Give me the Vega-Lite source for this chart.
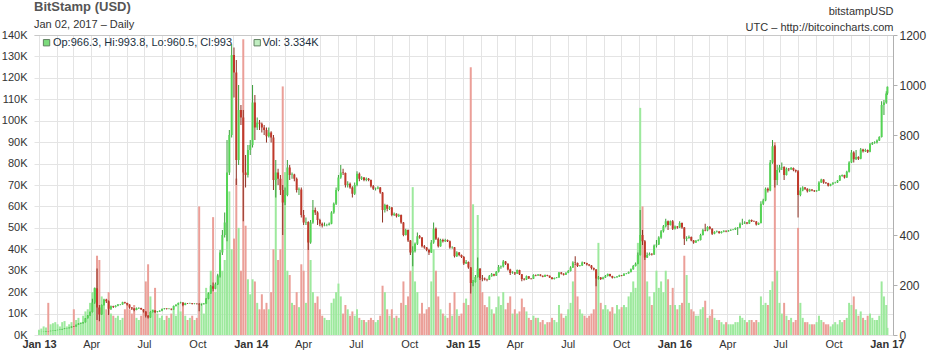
{
"$schema":"https://vega.github.io/schema/vega-lite/v6.json",
"width":859,"height":300,
"autosize":{"type":"none"},
"padding":{"left":34,"top":35,"right":42,"bottom":22},
"background":"white",
"config":{"font":"Liberation Sans","view":{"stroke":null}},
"title":{"text":"BitStamp (USD)","subtitle":"Jan 02, 2017 \u2013 Daily","anchor":"start","frame":"group","fontSize":13,"fontWeight":"bold","color":"#555555","subtitleFontSize":11,"subtitleColor":"#333333","subtitlePadding":5,"offset":3,"dy":28},
"datasets":{"px":[
{"t":"2013-01-01","o":13.3,"h":13.6,"l":13.2,"c":13.4,"v":2500},
{"t":"2013-01-05","o":13.4,"h":13.8,"l":13.3,"c":13.5,"v":3000},
{"t":"2013-01-09","o":13.5,"h":14.3,"l":13.4,"c":14.0,"v":4000},
{"t":"2013-01-13","o":14.0,"h":15.9,"l":13.9,"c":15.7,"v":3500},
{"t":"2013-01-17","o":15.8,"h":16.0,"l":15.0,"c":15.3,"v":15000},
{"t":"2013-01-21","o":15.3,"h":17.0,"l":15.2,"c":16.6,"v":5000},
{"t":"2013-01-25","o":16.6,"h":17.8,"l":16.5,"c":17.4,"v":5500},
{"t":"2013-01-29","o":17.4,"h":19.8,"l":17.3,"c":19.5,"v":6000},
{"t":"2013-02-02","o":19.5,"h":20.8,"l":19.3,"c":20.4,"v":5000},
{"t":"2013-02-06","o":20.4,"h":21.9,"l":20.2,"c":21.5,"v":4000},
{"t":"2013-02-10","o":21.5,"h":24.5,"l":21.3,"c":24.0,"v":6000},
{"t":"2013-02-14","o":24.0,"h":27.0,"l":23.8,"c":26.5,"v":6500},
{"t":"2013-02-18","o":26.5,"h":27.5,"l":26.0,"c":27.0,"v":4000},
{"t":"2013-02-22","o":27.0,"h":30.0,"l":26.8,"c":29.5,"v":5000},
{"t":"2013-02-26","o":29.5,"h":34.5,"l":29.0,"c":34.0,"v":6000},
{"t":"2013-03-02","o":34.5,"h":35.5,"l":32.5,"c":33.8,"v":12000},
{"t":"2013-03-06","o":33.8,"h":41.5,"l":33.5,"c":41.0,"v":7000},
{"t":"2013-03-10","o":41.0,"h":47.5,"l":40.5,"c":46.0,"v":8000},
{"t":"2013-03-14","o":46.0,"h":48.0,"l":44.0,"c":47.0,"v":6000},
{"t":"2013-03-18","o":47.0,"h":52.0,"l":46.0,"c":51.0,"v":9000},
{"t":"2013-03-22","o":51.0,"h":68.0,"l":50.0,"c":67.0,"v":11000},
{"t":"2013-03-26","o":67.0,"h":80.0,"l":66.0,"c":78.0,"v":12000},
{"t":"2013-03-30","o":78.0,"h":94.0,"l":77.0,"c":92.0,"v":15000},
{"t":"2013-04-03","o":92,"h":145,"l":90,"c":130,"v":20000},
{"t":"2013-04-07","o":130,"h":190,"l":125,"c":187,"v":22000},
{"t":"2013-04-11","o":187,"h":266,"l":60,"c":110,"v":37000},
{"t":"2013-04-15","o":110,"h":120,"l":55,"c":82,"v":35000},
{"t":"2013-04-19","o":82,"h":122,"l":80,"c":120,"v":18000},
{"t":"2013-04-23","o":120,"h":145,"l":118,"c":142,"v":15000},
{"t":"2013-04-27","o":142,"h":145,"l":128,"c":135,"v":12000},
{"t":"2013-05-01","o":135,"h":138,"l":80,"c":105,"v":20000},
{"t":"2013-05-05","o":105,"h":118,"l":100,"c":115,"v":10000},
{"t":"2013-05-09","o":115,"h":117,"l":108,"c":112,"v":9000},
{"t":"2013-05-13","o":112,"h":119,"l":110,"c":117,"v":8000},
{"t":"2013-05-17","o":117,"h":124,"l":115,"c":122,"v":9000},
{"t":"2013-05-21","o":122,"h":124,"l":119,"c":122,"v":7000},
{"t":"2013-05-25","o":122,"h":133,"l":121,"c":131,"v":8000},
{"t":"2013-05-29","o":131,"h":133,"l":125,"c":128,"v":12000},
{"t":"2013-06-02","o":128,"h":129,"l":118,"c":122,"v":15000},
{"t":"2013-06-06","o":122,"h":123,"l":105,"c":110,"v":12000},
{"t":"2013-06-10","o":110,"h":112,"l":100,"c":106,"v":10000},
{"t":"2013-06-14","o":106,"h":107,"l":95,"c":100,"v":14000},
{"t":"2013-06-18","o":100,"h":110,"l":99,"c":107,"v":8000},
{"t":"2013-06-22","o":107,"h":111,"l":104,"c":108,"v":7000},
{"t":"2013-06-26","o":108,"h":109,"l":100,"c":103,"v":9000},
{"t":"2013-06-30","o":103,"h":104,"l":90,"c":94,"v":11000},
{"t":"2013-07-04","o":94,"h":95,"l":70,"c":77,"v":25000},
{"t":"2013-07-08","o":77,"h":80,"l":66,"c":70,"v":33000},
{"t":"2013-07-12","o":70,"h":95,"l":69,"c":92,"v":18000},
{"t":"2013-07-16","o":92,"h":100,"l":90,"c":98,"v":12000},
{"t":"2013-07-20","o":98,"h":99,"l":88,"c":92,"v":22000},
{"t":"2013-07-24","o":92,"h":96,"l":90,"c":94,"v":10000},
{"t":"2013-07-28","o":94,"h":99,"l":92,"c":97,"v":8000},
{"t":"2013-08-01","o":97,"h":106,"l":95,"c":104,"v":9000},
{"t":"2013-08-05","o":104,"h":108,"l":102,"c":106,"v":7000},
{"t":"2013-08-09","o":106,"h":107,"l":102,"c":104,"v":9000},
{"t":"2013-08-13","o":104,"h":107,"l":103,"c":105,"v":8000},
{"t":"2013-08-17","o":105,"h":106,"l":99,"c":102,"v":10000},
{"t":"2013-08-21","o":102,"h":118,"l":101,"c":116,"v":12000},
{"t":"2013-08-25","o":116,"h":123,"l":114,"c":121,"v":9000},
{"t":"2013-08-29","o":121,"h":130,"l":120,"c":128,"v":14000},
{"t":"2013-09-02","o":128,"h":133,"l":126,"c":130,"v":11000},
{"t":"2013-09-06","o":130,"h":131,"l":115,"c":120,"v":15000},
{"t":"2013-09-10","o":120,"h":129,"l":119,"c":127,"v":9000},
{"t":"2013-09-14","o":127,"h":128,"l":124,"c":126,"v":7000},
{"t":"2013-09-18","o":126,"h":129,"l":125,"c":127,"v":8000},
{"t":"2013-09-22","o":127,"h":128,"l":122,"c":124,"v":9000},
{"t":"2013-09-26","o":124,"h":127,"l":123,"c":125,"v":7000},
{"t":"2013-09-30","o":125,"h":127,"l":122,"c":124,"v":8000},
{"t":"2013-10-04","o":124,"h":128,"l":95,"c":122,"v":60000},
{"t":"2013-10-08","o":122,"h":125,"l":118,"c":123,"v":15000},
{"t":"2013-10-12","o":123,"h":128,"l":122,"c":126,"v":10000},
{"t":"2013-10-16","o":126,"h":148,"l":125,"c":145,"v":22000},
{"t":"2013-10-20","o":145,"h":170,"l":143,"c":166,"v":20000},
{"t":"2013-10-24","o":166,"h":200,"l":165,"c":195,"v":30000},
{"t":"2013-10-28","o":195,"h":210,"l":175,"c":185,"v":55000},
{"t":"2013-11-01","o":185,"h":210,"l":183,"c":203,"v":20000},
{"t":"2013-11-05","o":203,"h":245,"l":200,"c":235,"v":28000},
{"t":"2013-11-09","o":235,"h":340,"l":230,"c":330,"v":33000},
{"t":"2013-11-13","o":330,"h":420,"l":320,"c":400,"v":30000},
{"t":"2013-11-17","o":400,"h":490,"l":390,"c":450,"v":35000},
{"t":"2013-11-21","o":450,"h":780,"l":375,"c":650,"v":63000},
{"t":"2013-11-25","o":650,"h":820,"l":640,"c":800,"v":67000},
{"t":"2013-11-29","o":800,"h":1163,"l":790,"c":1120,"v":40000},
{"t":"2013-12-03","o":1120,"h":1150,"l":950,"c":1050,"v":45000},
{"t":"2013-12-07","o":1050,"h":1100,"l":600,"c":700,"v":73000},
{"t":"2013-12-11","o":700,"h":1000,"l":680,"c":900,"v":50000},
{"t":"2013-12-15","o":900,"h":920,"l":840,"c":870,"v":30000},
{"t":"2013-12-19","o":870,"h":900,"l":455,"c":650,"v":138000},
{"t":"2013-12-23","o":650,"h":720,"l":590,"c":640,"v":51000},
{"t":"2013-12-27","o":640,"h":760,"l":630,"c":740,"v":26000},
{"t":"2013-12-31","o":740,"h":780,"l":720,"c":760,"v":19000},
{"t":"2014-01-04","o":760,"h":1000,"l":750,"c":930,"v":26000},
{"t":"2014-01-08","o":930,"h":960,"l":780,"c":830,"v":25000},
{"t":"2014-01-12","o":830,"h":870,"l":820,"c":850,"v":15000},
{"t":"2014-01-16","o":850,"h":860,"l":820,"c":845,"v":12000},
{"t":"2014-01-20","o":845,"h":850,"l":810,"c":830,"v":19000},
{"t":"2014-01-24","o":830,"h":840,"l":800,"c":820,"v":12000},
{"t":"2014-01-28","o":820,"h":830,"l":770,"c":795,"v":15000},
{"t":"2014-02-01","o":795,"h":830,"l":790,"c":810,"v":12000},
{"t":"2014-02-05","o":810,"h":815,"l":770,"c":790,"v":20000},
{"t":"2014-02-09","o":790,"h":800,"l":580,"c":620,"v":40000},
{"t":"2014-02-13","o":620,"h":700,"l":550,"c":650,"v":73000},
{"t":"2014-02-17","o":650,"h":665,"l":600,"c":625,"v":35000},
{"t":"2014-02-21","o":625,"h":640,"l":560,"c":580,"v":40000},
{"t":"2014-02-25","o":580,"h":600,"l":400,"c":530,"v":116000},
{"t":"2014-03-01","o":530,"h":590,"l":520,"c":560,"v":76000},
{"t":"2014-03-05","o":560,"h":700,"l":555,"c":670,"v":30000},
{"t":"2014-03-09","o":670,"h":680,"l":620,"c":640,"v":28000},
{"t":"2014-03-13","o":640,"h":650,"l":625,"c":642,"v":15000},
{"t":"2014-03-17","o":642,"h":645,"l":615,"c":625,"v":14000},
{"t":"2014-03-21","o":625,"h":630,"l":570,"c":580,"v":20000},
{"t":"2014-03-25","o":580,"h":590,"l":560,"c":582,"v":13000},
{"t":"2014-03-29","o":582,"h":590,"l":470,"c":480,"v":33000},
{"t":"2014-04-02","o":480,"h":500,"l":440,"c":450,"v":30000},
{"t":"2014-04-06","o":450,"h":470,"l":440,"c":452,"v":15000},
{"t":"2014-04-10","o":452,"h":455,"l":340,"c":370,"v":49000},
{"t":"2014-04-14","o":370,"h":460,"l":365,"c":450,"v":35000},
{"t":"2014-04-18","o":450,"h":540,"l":445,"c":500,"v":20000},
{"t":"2014-04-22","o":500,"h":510,"l":480,"c":490,"v":15000},
{"t":"2014-04-26","o":490,"h":495,"l":440,"c":460,"v":18000},
{"t":"2014-04-30","o":460,"h":465,"l":435,"c":445,"v":12000},
{"t":"2014-05-04","o":445,"h":450,"l":430,"c":438,"v":9000},
{"t":"2014-05-08","o":438,"h":450,"l":435,"c":440,"v":8000},
{"t":"2014-05-12","o":440,"h":445,"l":435,"c":440,"v":7000},
{"t":"2014-05-16","o":440,"h":450,"l":438,"c":445,"v":7000},
{"t":"2014-05-20","o":445,"h":495,"l":443,"c":490,"v":15000},
{"t":"2014-05-24","o":490,"h":530,"l":485,"c":525,"v":17000},
{"t":"2014-05-28","o":525,"h":590,"l":520,"c":580,"v":20000},
{"t":"2014-06-01","o":580,"h":640,"l":575,"c":630,"v":24000},
{"t":"2014-06-05","o":630,"h":680,"l":625,"c":650,"v":18000},
{"t":"2014-06-09","o":650,"h":665,"l":640,"c":648,"v":10000},
{"t":"2014-06-13","o":648,"h":650,"l":590,"c":600,"v":14000},
{"t":"2014-06-17","o":600,"h":615,"l":590,"c":605,"v":12000},
{"t":"2014-06-21","o":605,"h":610,"l":585,"c":590,"v":9000},
{"t":"2014-06-25","o":590,"h":595,"l":550,"c":565,"v":11000},
{"t":"2014-06-29","o":565,"h":610,"l":560,"c":600,"v":9000},
{"t":"2014-07-03","o":600,"h":655,"l":595,"c":645,"v":12000},
{"t":"2014-07-07","o":645,"h":650,"l":615,"c":625,"v":8000},
{"t":"2014-07-11","o":625,"h":635,"l":620,"c":630,"v":7000},
{"t":"2014-07-15","o":630,"h":632,"l":615,"c":620,"v":7000},
{"t":"2014-07-19","o":620,"h":630,"l":615,"c":625,"v":6000},
{"t":"2014-07-23","o":625,"h":628,"l":615,"c":620,"v":7000},
{"t":"2014-07-27","o":620,"h":622,"l":590,"c":595,"v":8000},
{"t":"2014-07-31","o":595,"h":600,"l":580,"c":585,"v":7000},
{"t":"2014-08-04","o":585,"h":590,"l":578,"c":586,"v":6000},
{"t":"2014-08-08","o":586,"h":595,"l":583,"c":590,"v":7000},
{"t":"2014-08-12","o":590,"h":592,"l":565,"c":570,"v":9000},
{"t":"2014-08-16","o":570,"h":572,"l":450,"c":500,"v":23000},
{"t":"2014-08-20","o":500,"h":525,"l":490,"c":520,"v":20000},
{"t":"2014-08-24","o":520,"h":522,"l":495,"c":505,"v":12000},
{"t":"2014-08-28","o":505,"h":515,"l":500,"c":510,"v":9000},
{"t":"2014-09-01","o":510,"h":512,"l":475,"c":480,"v":12000},
{"t":"2014-09-05","o":480,"h":490,"l":476,"c":485,"v":8000},
{"t":"2014-09-09","o":485,"h":487,"l":470,"c":475,"v":9000},
{"t":"2014-09-13","o":475,"h":485,"l":472,"c":480,"v":8000},
{"t":"2014-09-17","o":480,"h":482,"l":445,"c":450,"v":15000},
{"t":"2014-09-21","o":450,"h":452,"l":395,"c":400,"v":25000},
{"t":"2014-09-25","o":400,"h":425,"l":398,"c":420,"v":14000},
{"t":"2014-09-29","o":420,"h":422,"l":372,"c":378,"v":18000},
{"t":"2014-10-03","o":378,"h":380,"l":320,"c":330,"v":30000},
{"t":"2014-10-07","o":330,"h":355,"l":275,"c":335,"v":69000},
{"t":"2014-10-11","o":335,"h":370,"l":330,"c":365,"v":25000},
{"t":"2014-10-15","o":365,"h":410,"l":360,"c":395,"v":20000},
{"t":"2014-10-19","o":395,"h":400,"l":385,"c":390,"v":10000},
{"t":"2014-10-23","o":390,"h":392,"l":350,"c":355,"v":15000},
{"t":"2014-10-27","o":355,"h":360,"l":345,"c":350,"v":10000},
{"t":"2014-10-31","o":350,"h":352,"l":335,"c":340,"v":12000},
{"t":"2014-11-04","o":340,"h":345,"l":320,"c":330,"v":13000},
{"t":"2014-11-08","o":330,"h":380,"l":328,"c":370,"v":25000},
{"t":"2014-11-12","o":370,"h":450,"l":365,"c":425,"v":40000},
{"t":"2014-11-16","o":425,"h":430,"l":380,"c":385,"v":30000},
{"t":"2014-11-20","o":385,"h":390,"l":350,"c":355,"v":18000},
{"t":"2014-11-24","o":355,"h":385,"l":353,"c":380,"v":12000},
{"t":"2014-11-28","o":380,"h":385,"l":370,"c":375,"v":10000},
{"t":"2014-12-02","o":375,"h":385,"l":372,"c":380,"v":9000},
{"t":"2014-12-06","o":380,"h":382,"l":372,"c":375,"v":8000},
{"t":"2014-12-10","o":375,"h":378,"l":345,"c":350,"v":15000},
{"t":"2014-12-14","o":350,"h":355,"l":345,"c":351,"v":9000},
{"t":"2014-12-18","o":351,"h":352,"l":310,"c":315,"v":20000},
{"t":"2014-12-22","o":315,"h":335,"l":312,"c":330,"v":12000},
{"t":"2014-12-26","o":330,"h":332,"l":315,"c":320,"v":9000},
{"t":"2014-12-30","o":320,"h":322,"l":308,"c":312,"v":10000},
{"t":"2015-01-03","o":312,"h":316,"l":280,"c":286,"v":15000},
{"t":"2015-01-07","o":286,"h":300,"l":284,"c":292,"v":17000},
{"t":"2015-01-11","o":292,"h":294,"l":265,"c":270,"v":14000},
{"t":"2015-01-15","o":270,"h":272,"l":166,"c":208,"v":125000},
{"t":"2015-01-19","o":208,"h":220,"l":195,"c":212,"v":61000},
{"t":"2015-01-23","o":212,"h":240,"l":210,"c":232,"v":25000},
{"t":"2015-01-27","o":232,"h":310,"l":230,"c":265,"v":56000},
{"t":"2015-01-31","o":265,"h":268,"l":220,"c":228,"v":30000},
{"t":"2015-02-04","o":228,"h":240,"l":215,"c":226,"v":20000},
{"t":"2015-02-08","o":226,"h":230,"l":218,"c":222,"v":14000},
{"t":"2015-02-12","o":222,"h":225,"l":215,"c":221,"v":13000},
{"t":"2015-02-16","o":221,"h":240,"l":220,"c":235,"v":18000},
{"t":"2015-02-20","o":235,"h":248,"l":233,"c":243,"v":12000},
{"t":"2015-02-24","o":243,"h":245,"l":235,"c":238,"v":10000},
{"t":"2015-02-28","o":238,"h":256,"l":236,"c":253,"v":13000},
{"t":"2015-03-04","o":253,"h":280,"l":250,"c":272,"v":18000},
{"t":"2015-03-08","o":272,"h":278,"l":265,"c":274,"v":14000},
{"t":"2015-03-12","o":274,"h":300,"l":270,"c":294,"v":20000},
{"t":"2015-03-16","o":294,"h":296,"l":280,"c":285,"v":12000},
{"t":"2015-03-20","o":285,"h":287,"l":258,"c":262,"v":15000},
{"t":"2015-03-24","o":262,"h":265,"l":240,"c":248,"v":18000},
{"t":"2015-03-28","o":248,"h":255,"l":245,"c":250,"v":10000},
{"t":"2015-04-01","o":250,"h":252,"l":240,"c":246,"v":12000},
{"t":"2015-04-05","o":246,"h":262,"l":244,"c":260,"v":10000},
{"t":"2015-04-09","o":260,"h":261,"l":240,"c":243,"v":11000},
{"t":"2015-04-13","o":243,"h":244,"l":215,"c":224,"v":17000},
{"t":"2015-04-17","o":224,"h":228,"l":218,"c":222,"v":13000},
{"t":"2015-04-21","o":222,"h":238,"l":220,"c":235,"v":11000},
{"t":"2015-04-25","o":235,"h":236,"l":224,"c":226,"v":8000},
{"t":"2015-04-29","o":226,"h":228,"l":222,"c":225,"v":7000},
{"t":"2015-05-03","o":225,"h":243,"l":224,"c":240,"v":9000},
{"t":"2015-05-07","o":240,"h":242,"l":235,"c":238,"v":8000},
{"t":"2015-05-11","o":238,"h":244,"l":236,"c":242,"v":8000},
{"t":"2015-05-15","o":242,"h":243,"l":235,"c":237,"v":6000},
{"t":"2015-05-19","o":237,"h":238,"l":231,"c":233,"v":7000},
{"t":"2015-05-23","o":233,"h":242,"l":232,"c":240,"v":5000},
{"t":"2015-05-27","o":240,"h":241,"l":235,"c":237,"v":6000},
{"t":"2015-05-31","o":237,"h":238,"l":228,"c":230,"v":6000},
{"t":"2015-06-04","o":230,"h":232,"l":222,"c":224,"v":8000},
{"t":"2015-06-08","o":224,"h":230,"l":222,"c":228,"v":7000},
{"t":"2015-06-12","o":228,"h":232,"l":227,"c":230,"v":6000},
{"t":"2015-06-16","o":230,"h":252,"l":229,"c":250,"v":14000},
{"t":"2015-06-20","o":250,"h":252,"l":242,"c":245,"v":10000},
{"t":"2015-06-24","o":245,"h":247,"l":238,"c":241,"v":8000},
{"t":"2015-06-28","o":241,"h":251,"l":240,"c":249,"v":9000},
{"t":"2015-07-02","o":249,"h":260,"l":247,"c":256,"v":12000},
{"t":"2015-07-06","o":256,"h":275,"l":254,"c":270,"v":15000},
{"t":"2015-07-10","o":270,"h":295,"l":268,"c":290,"v":25000},
{"t":"2015-07-14","o":290,"h":315,"l":280,"c":288,"v":33000},
{"t":"2015-07-18","o":288,"h":290,"l":272,"c":276,"v":18000},
{"t":"2015-07-22","o":276,"h":280,"l":274,"c":278,"v":12000},
{"t":"2015-07-26","o":278,"h":294,"l":276,"c":290,"v":10000},
{"t":"2015-07-30","o":290,"h":292,"l":284,"c":288,"v":9000},
{"t":"2015-08-03","o":288,"h":289,"l":278,"c":282,"v":8000},
{"t":"2015-08-07","o":282,"h":284,"l":275,"c":278,"v":9000},
{"t":"2015-08-11","o":278,"h":280,"l":262,"c":268,"v":10000},
{"t":"2015-08-15","o":268,"h":270,"l":258,"c":262,"v":12000},
{"t":"2015-08-19","o":262,"h":264,"l":195,"c":226,"v":30000},
{"t":"2015-08-23","o":226,"h":236,"l":222,"c":230,"v":43000},
{"t":"2015-08-27","o":230,"h":232,"l":220,"c":224,"v":15000},
{"t":"2015-08-31","o":224,"h":233,"l":222,"c":230,"v":12000},
{"t":"2015-09-04","o":230,"h":240,"l":228,"c":236,"v":14000},
{"t":"2015-09-08","o":236,"h":246,"l":234,"c":244,"v":12000},
{"t":"2015-09-12","o":244,"h":245,"l":233,"c":236,"v":11000},
{"t":"2015-09-16","o":236,"h":237,"l":226,"c":229,"v":13000},
{"t":"2015-09-20","o":229,"h":233,"l":227,"c":231,"v":10000},
{"t":"2015-09-24","o":231,"h":236,"l":229,"c":234,"v":14000},
{"t":"2015-09-28","o":234,"h":241,"l":232,"c":239,"v":12000},
{"t":"2015-10-02","o":239,"h":240,"l":235,"c":237,"v":13000},
{"t":"2015-10-06","o":237,"h":247,"l":236,"c":245,"v":14000},
{"t":"2015-10-10","o":245,"h":248,"l":243,"c":246,"v":13000},
{"t":"2015-10-14","o":246,"h":254,"l":245,"c":252,"v":18000},
{"t":"2015-10-18","o":252,"h":266,"l":250,"c":263,"v":20000},
{"t":"2015-10-22","o":263,"h":280,"l":261,"c":276,"v":25000},
{"t":"2015-10-26","o":276,"h":290,"l":274,"c":285,"v":22000},
{"t":"2015-10-30","o":285,"h":330,"l":283,"c":320,"v":43000},
{"t":"2015-11-03","o":320,"h":500,"l":318,"c":400,"v":106000},
{"t":"2015-11-07","o":400,"h":420,"l":360,"c":375,"v":60000},
{"t":"2015-11-11","o":375,"h":380,"l":300,"c":310,"v":40000},
{"t":"2015-11-15","o":310,"h":330,"l":308,"c":320,"v":25000},
{"t":"2015-11-19","o":320,"h":330,"l":318,"c":325,"v":18000},
{"t":"2015-11-23","o":325,"h":327,"l":318,"c":322,"v":14000},
{"t":"2015-11-27","o":322,"h":362,"l":320,"c":358,"v":20000},
{"t":"2015-12-01","o":358,"h":380,"l":350,"c":362,"v":30000},
{"t":"2015-12-05","o":362,"h":395,"l":360,"c":390,"v":22000},
{"t":"2015-12-09","o":390,"h":420,"l":385,"c":415,"v":25000},
{"t":"2015-12-13","o":415,"h":440,"l":410,"c":435,"v":20000},
{"t":"2015-12-17","o":435,"h":465,"l":430,"c":455,"v":30000},
{"t":"2015-12-21","o":455,"h":458,"l":420,"c":440,"v":26000},
{"t":"2015-12-25","o":440,"h":458,"l":438,"c":455,"v":14000},
{"t":"2015-12-29","o":455,"h":460,"l":420,"c":425,"v":22000},
{"t":"2016-01-02","o":425,"h":438,"l":422,"c":434,"v":14000},
{"t":"2016-01-06","o":434,"h":436,"l":425,"c":430,"v":12000},
{"t":"2016-01-10","o":430,"h":455,"l":428,"c":448,"v":14000},
{"t":"2016-01-14","o":448,"h":450,"l":425,"c":430,"v":15000},
{"t":"2016-01-18","o":430,"h":432,"l":360,"c":385,"v":37000},
{"t":"2016-01-22","o":385,"h":395,"l":375,"c":388,"v":28000},
{"t":"2016-01-26","o":388,"h":398,"l":385,"c":392,"v":15000},
{"t":"2016-01-30","o":392,"h":394,"l":375,"c":378,"v":12000},
{"t":"2016-02-03","o":378,"h":380,"l":365,"c":370,"v":11000},
{"t":"2016-02-07","o":370,"h":380,"l":368,"c":377,"v":9000},
{"t":"2016-02-11","o":377,"h":383,"l":375,"c":380,"v":9000},
{"t":"2016-02-15","o":380,"h":405,"l":378,"c":400,"v":12000},
{"t":"2016-02-19","o":400,"h":425,"l":398,"c":420,"v":13000},
{"t":"2016-02-23","o":420,"h":445,"l":415,"c":418,"v":16000},
{"t":"2016-02-27","o":418,"h":435,"l":415,"c":432,"v":8000},
{"t":"2016-03-02","o":432,"h":436,"l":422,"c":425,"v":9000},
{"t":"2016-03-06","o":425,"h":427,"l":400,"c":405,"v":12000},
{"t":"2016-03-10","o":405,"h":415,"l":403,"c":412,"v":8000},
{"t":"2016-03-14","o":412,"h":418,"l":410,"c":414,"v":7000},
{"t":"2016-03-18","o":414,"h":416,"l":405,"c":408,"v":7000},
{"t":"2016-03-22","o":408,"h":415,"l":406,"c":413,"v":6000},
{"t":"2016-03-26","o":413,"h":419,"l":411,"c":417,"v":5000},
{"t":"2016-03-30","o":417,"h":418,"l":411,"c":414,"v":6000},
{"t":"2016-04-03","o":414,"h":420,"l":413,"c":418,"v":5000},
{"t":"2016-04-07","o":418,"h":423,"l":416,"c":421,"v":5000},
{"t":"2016-04-11","o":421,"h":424,"l":419,"c":422,"v":5000},
{"t":"2016-04-15","o":422,"h":430,"l":420,"c":428,"v":6000},
{"t":"2016-04-19","o":428,"h":432,"l":400,"c":429,"v":6000},
{"t":"2016-04-23","o":429,"h":450,"l":427,"c":445,"v":9000},
{"t":"2016-04-27","o":445,"h":465,"l":440,"c":446,"v":8000},
{"t":"2016-05-01","o":446,"h":455,"l":444,"c":450,"v":7000},
{"t":"2016-05-05","o":450,"h":452,"l":443,"c":446,"v":6000},
{"t":"2016-05-09","o":446,"h":462,"l":444,"c":460,"v":7000},
{"t":"2016-05-13","o":460,"h":462,"l":452,"c":455,"v":7000},
{"t":"2016-05-17","o":455,"h":458,"l":452,"c":454,"v":6000},
{"t":"2016-05-21","o":454,"h":456,"l":438,"c":442,"v":7000},
{"t":"2016-05-25","o":442,"h":450,"l":440,"c":448,"v":6000},
{"t":"2016-05-29","o":448,"h":535,"l":446,"c":525,"v":18000},
{"t":"2016-06-02","o":525,"h":545,"l":520,"c":538,"v":14000},
{"t":"2016-06-06","o":538,"h":590,"l":535,"c":585,"v":15000},
{"t":"2016-06-10","o":585,"h":590,"l":570,"c":578,"v":14000},
{"t":"2016-06-14","o":578,"h":700,"l":575,"c":690,"v":21000},
{"t":"2016-06-18","o":690,"h":780,"l":685,"c":755,"v":25000},
{"t":"2016-06-22","o":755,"h":760,"l":590,"c":620,"v":90000},
{"t":"2016-06-26","o":620,"h":680,"l":600,"c":660,"v":30000},
{"t":"2016-06-30","o":660,"h":680,"l":650,"c":670,"v":15000},
{"t":"2016-07-04","o":670,"h":690,"l":660,"c":672,"v":10000},
{"t":"2016-07-08","o":672,"h":675,"l":620,"c":640,"v":15000},
{"t":"2016-07-12","o":640,"h":670,"l":638,"c":665,"v":9000},
{"t":"2016-07-16","o":665,"h":668,"l":655,"c":663,"v":7000},
{"t":"2016-07-20","o":663,"h":672,"l":660,"c":668,"v":8000},
{"t":"2016-07-24","o":668,"h":670,"l":655,"c":660,"v":6000},
{"t":"2016-07-28","o":660,"h":662,"l":650,"c":655,"v":7000},
{"t":"2016-08-01","o":655,"h":660,"l":470,"c":560,"v":50000},
{"t":"2016-08-05","o":560,"h":590,"l":555,"c":578,"v":15000},
{"t":"2016-08-09","o":578,"h":595,"l":575,"c":590,"v":8000},
{"t":"2016-08-13","o":590,"h":592,"l":580,"c":585,"v":6000},
{"t":"2016-08-17","o":585,"h":587,"l":570,"c":575,"v":6000},
{"t":"2016-08-21","o":575,"h":585,"l":573,"c":582,"v":5000},
{"t":"2016-08-25","o":582,"h":583,"l":575,"c":578,"v":5000},
{"t":"2016-08-29","o":578,"h":580,"l":572,"c":575,"v":5000},
{"t":"2016-09-02","o":575,"h":580,"l":573,"c":578,"v":6000},
{"t":"2016-09-06","o":578,"h":615,"l":576,"c":610,"v":9000},
{"t":"2016-09-10","o":610,"h":625,"l":608,"c":622,"v":7000},
{"t":"2016-09-14","o":622,"h":623,"l":605,"c":610,"v":6000},
{"t":"2016-09-18","o":610,"h":612,"l":604,"c":608,"v":5000},
{"t":"2016-09-22","o":608,"h":609,"l":594,"c":597,"v":5000},
{"t":"2016-09-26","o":597,"h":605,"l":595,"c":603,"v":4000},
{"t":"2016-09-30","o":603,"h":611,"l":601,"c":609,"v":5000},
{"t":"2016-10-04","o":609,"h":613,"l":606,"c":610,"v":6000},
{"t":"2016-10-08","o":610,"h":620,"l":608,"c":618,"v":5000},
{"t":"2016-10-12","o":618,"h":640,"l":616,"c":636,"v":7000},
{"t":"2016-10-16","o":636,"h":642,"l":633,"c":640,"v":6000},
{"t":"2016-10-20","o":640,"h":641,"l":626,"c":630,"v":7000},
{"t":"2016-10-24","o":630,"h":657,"l":628,"c":653,"v":8000},
{"t":"2016-10-28","o":653,"h":695,"l":650,"c":690,"v":15000},
{"t":"2016-11-01","o":690,"h":740,"l":688,"c":730,"v":14000},
{"t":"2016-11-05","o":730,"h":735,"l":690,"c":703,"v":18000},
{"t":"2016-11-09","o":703,"h":740,"l":700,"c":712,"v":12000},
{"t":"2016-11-13","o":712,"h":715,"l":700,"c":705,"v":9000},
{"t":"2016-11-17","o":705,"h":748,"l":703,"c":742,"v":11000},
{"t":"2016-11-21","o":742,"h":745,"l":730,"c":735,"v":8000},
{"t":"2016-11-25","o":735,"h":745,"l":732,"c":740,"v":7000},
{"t":"2016-11-29","o":740,"h":742,"l":728,"c":733,"v":9000},
{"t":"2016-12-03","o":733,"h":768,"l":731,"c":763,"v":10000},
{"t":"2016-12-07","o":763,"h":772,"l":760,"c":768,"v":8000},
{"t":"2016-12-11","o":768,"h":775,"l":765,"c":770,"v":7000},
{"t":"2016-12-15","o":770,"h":782,"l":766,"c":778,"v":7000},
{"t":"2016-12-19","o":778,"h":795,"l":776,"c":792,"v":9000},
{"t":"2016-12-23","o":792,"h":935,"l":790,"c":920,"v":25000},
{"t":"2016-12-27","o":920,"h":940,"l":880,"c":930,"v":18000},
{"t":"2016-12-31","o":930,"h":975,"l":925,"c":966,"v":14000},
{"t":"2017-01-02","o":966.3,"h":993.8,"l":960.5,"c":993,"v":3334}
]},
"resolve":{"scale":{"y":"independent"},"axis":{"x":"independent"}},
"layer":[
{"data":{"name":"px"},
 "mark":{"type":"bar","width":2},
 "encoding":{
  "x":{"field":"t","type":"temporal","scale":{"type":"utc","domain":[{"year":2013,"month":1,"date":1,"utc":true},{"year":2017,"month":1,"date":3,"utc":true}]},
       "axis":{"orient":"bottom","title":null,"tickCount":{"interval":"month","step":1},"grid":true,"gridColor":"#e4e4e4","ticks":false,"domain":false,"labelOverlap":false,"labelFlush":false,"labelBound":false,"labelPadding":3,"labelFontSize":11,"labelColor":"#333333",
       "labelExpr":"utcmonth(datum.value) % 3 != 0 ? '' : (utcmonth(datum.value) == 0 ? 'Jan ' + utcFormat(datum.value, '%y') : utcFormat(datum.value, '%b'))",
       "labelFontWeight":{"condition":{"test":"utcmonth(datum.value) == 0","value":"bold"},"value":"normal"}}},
  "y":{"field":"v","type":"quantitative","scale":{"domain":[0,140000]},
       "axis":{"orient":"left","title":null,"values":[0,10000,20000,30000,40000,50000,60000,70000,80000,90000,100000,110000,120000,130000,140000],"labelExpr":"datum.value/1000 + 'K'","grid":true,"gridColor":"#e4e4e4","ticks":false,"domain":false,"labelPadding":7,"labelFontSize":11,"labelColor":"#333333"}},
  "color":{"condition":{"test":"datum.c >= datum.o","value":"#9de99d"},"value":"#eb9f98"}
 }},
{"data":{"name":"px"},
 "layer":[
  {"mark":{"type":"rule","strokeWidth":1},
   "encoding":{
    "x":{"field":"t","type":"temporal","axis":null},
    "y":{"field":"l","type":"quantitative","scale":{"domain":[0,1200]},
         "axis":{"orient":"right","title":null,"values":[0,100,200,300,400,500,600,700,800,900,1000,1100,1200],"format":"d","grid":false,"domain":true,"domainColor":"#b0b0b0","ticks":true,"tickColor":"#b0b0b0","tickSize":4,"labelPadding":2,"labelFontSize":12,"labelColor":"#333333"}},
    "y2":{"field":"h"},
    "color":{"condition":{"test":"datum.c >= datum.o","value":"#3a9f3a"},"value":"#8e2f22"}}},
  {"mark":{"type":"bar","width":2},
   "encoding":{
    "x":{"field":"t","type":"temporal","axis":null},
    "y":{"field":"o","type":"quantitative"},
    "y2":{"field":"c"},
    "color":{"condition":{"test":"datum.c >= datum.o","value":"#55d455"},"value":"#c0392b"}}}
 ]},
{"data":{"values":[{"lbl":"Op:966.3, Hi:993.8, Lo:960.5, Cl:993"}]},
 "layer":[
  {"mark":{"type":"square","size":40,"filled":true,"color":"#44cc44","stroke":"#1e4d1e","strokeWidth":1},
   "encoding":{
    "x":{"datum":{"year":2013,"month":1,"date":14,"utc":true},"type":"temporal",
         "axis":{"orient":"top","labels":false,"ticks":false,"grid":false,"domain":true,"domainColor":"#c8c8c8",
                 "title":["bitstampUSD","UTC \u2013 http://bitcoincharts.com"],"titleAnchor":"end","titleAlign":"right","titleBaseline":"alphabetic","titleX":859,"titleY":-21,"titleLineHeight":16,"titleFontSize":11,"titleFontWeight":"normal","titleColor":"#333333"}},
    "y":{"datum":136400,"type":"quantitative","scale":{"domain":[0,140000]},"axis":null}}},
  {"mark":{"type":"text","align":"left","baseline":"middle","fontSize":11,"color":"#1a3040"},
   "encoding":{
    "x":{"datum":{"year":2013,"month":1,"date":25,"utc":true},"type":"temporal"},
    "y":{"datum":136400,"type":"quantitative"},
    "text":{"field":"lbl"}}},
  {"mark":{"type":"square","size":40,"filled":true,"color":"#a8e8a8","stroke":"#1e4d1e","strokeWidth":1},
   "encoding":{
    "x":{"datum":{"year":2014,"month":1,"date":12,"utc":true},"type":"temporal"},
    "y":{"datum":136400,"type":"quantitative"}}},
  {"mark":{"type":"text","align":"left","baseline":"middle","fontSize":11,"color":"#1a3040","text":"Vol: 3.334K"},
   "encoding":{
    "x":{"datum":{"year":2014,"month":1,"date":21,"utc":true},"type":"temporal"},
    "y":{"datum":136400,"type":"quantitative"}}}
 ]}
]
}
